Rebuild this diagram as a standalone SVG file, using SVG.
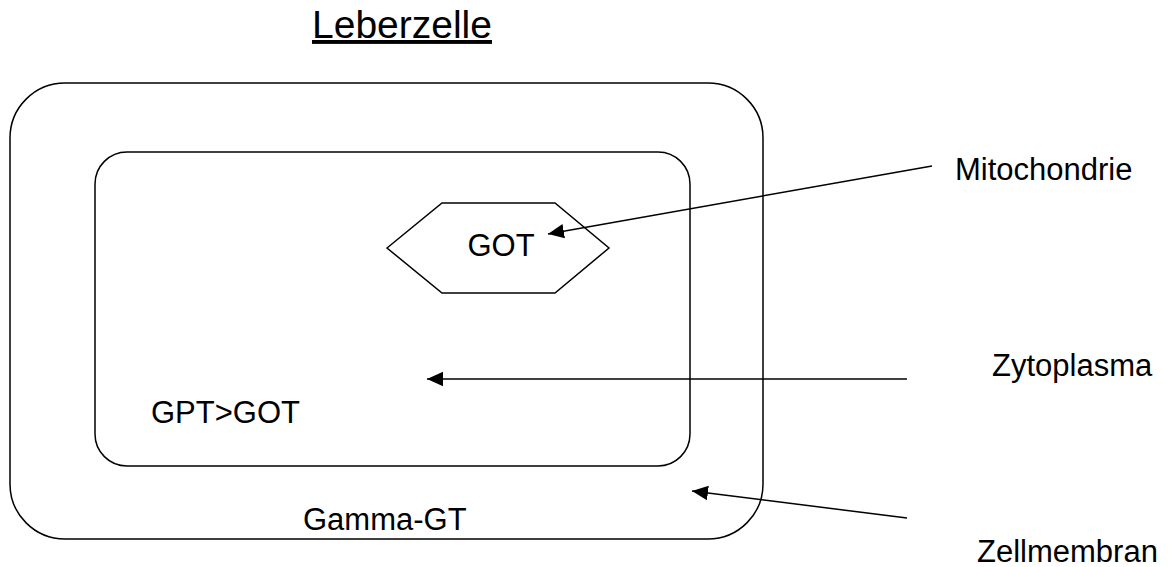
<svg xmlns="http://www.w3.org/2000/svg" width="1173" height="567" viewBox="0 0 1173 567">
  <style>
    .shape { fill: none; stroke: #000; stroke-width: 1.5; }
    .conn { stroke: #000; stroke-width: 1.5; fill: none; marker-end: url(#head); }
    text { font-family: "Liberation Sans", Arial, sans-serif; font-size: 31px; fill: #000; }
    .title { font-size: 39px; text-decoration: underline; }
  </style>
  <defs>
    <marker id="head" viewBox="0 0 10 10" refX="10" refY="5" markerWidth="16" markerHeight="16" markerUnits="userSpaceOnUse" orient="auto">
      <path d="M0,0.5 L10,5 L0,9.5 z" fill="#000"/>
    </marker>
  </defs>

  <g id="title">
    <text class="title" x="312" y="38">Leberzelle</text>
  </g>

  <g id="zellmembran">
    <rect class="shape" x="10" y="83" width="753" height="456" rx="55" ry="55"/>
    <text x="303" y="530">Gamma-GT</text>
  </g>

  <g id="zytoplasma">
    <rect class="shape" x="95" y="152" width="595" height="314" rx="32" ry="32"/>
    <text x="151" y="423">GPT&gt;GOT</text>
  </g>

  <g id="mitochondrie">
    <polygon class="shape" points="387,248 442,203 555,203 609,248 555,293 442,293"/>
    <text x="501" y="256" text-anchor="middle">GOT</text>
  </g>

  <g id="labels">
    <text x="955" y="180">Mitochondrie</text>
    <text x="992" y="376">Zytoplasma</text>
    <text x="977" y="562">Zellmembran</text>
  </g>

  <g id="connectors">
    <line class="conn" x1="932" y1="166" x2="548" y2="234"/>
    <line class="conn" x1="907" y1="379" x2="427" y2="379"/>
    <line class="conn" x1="907" y1="518" x2="692" y2="491"/>
  </g>
</svg>
